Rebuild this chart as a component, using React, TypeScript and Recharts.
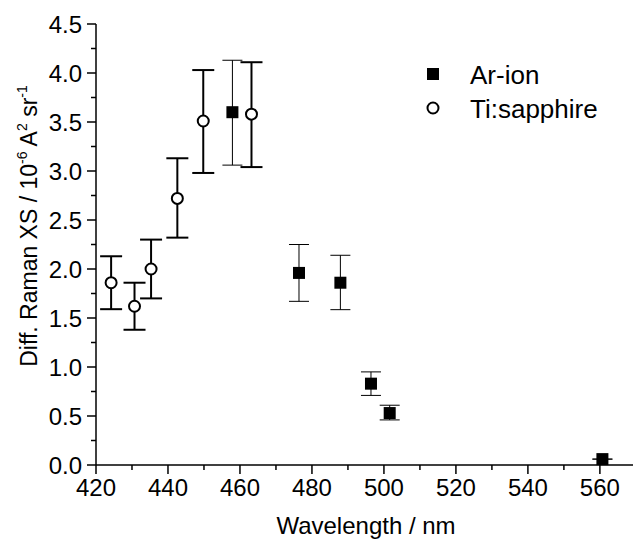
import React from "react";
import { ScatterChart, Scatter, XAxis, YAxis, ErrorBar } from "recharts";

// Ti:sapphire (open circles)
const tiWavelength = [424.2, 430.7, 435.3, 442.6, 449.8, 463.2];
const tiValue = [1.86, 1.62, 2.0, 2.72, 3.51, 3.58];
const tiLow = [1.59, 1.38, 1.7, 2.32, 2.98, 3.04];
const tiHigh = [2.13, 1.86, 2.3, 3.13, 4.03, 4.11];

// Ar-ion (filled squares)
const arWavelength = [457.9, 476.4, 487.9, 496.4, 501.6, 560.7];
const arValue = [3.6, 1.96, 1.86, 0.83, 0.53, 0.06];
const arLow = [3.06, 1.67, 1.585, 0.71, 0.46, 0.06];
const arHigh = [4.13, 2.25, 2.14, 0.95, 0.61, 0.06];

const xTicks = [420, 430, 440, 450, 460, 470, 480, 490, 500, 510, 520, 530, 540, 550, 560];
const yTicks = [0, 0.25, 0.5, 0.75, 1, 1.25, 1.5, 1.75, 2, 2.25, 2.5, 2.75, 3, 3.25, 3.5, 3.75, 4, 4.25, 4.5];

const FONT = '"Liberation Sans", Arial, Helvetica, sans-serif';

const build = (xs: number[], vs: number[], lo: number[], hi: number[]) =>
  xs.map((x, i) => ({ x, y: vs[i], err: [vs[i] - lo[i], hi[i] - vs[i]] }));

const tiData = build(tiWavelength, tiValue, tiLow, tiHigh);
const arData = build(arWavelength, arValue, arLow, arHigh);

const XTick = ({ x, y, payload }: any) => {
  const major = payload.value % 20 === 0;
  return (
    <g>
      <line x1={x} y1={y} x2={x} y2={y + (major ? 9 : 5)} stroke="#000" strokeWidth={1.5} />
      {major && (
        <text x={x} y={y + 31} textAnchor="middle" fontSize={24} fontFamily={FONT} fill="#000">
          {payload.value}
        </text>
      )}
    </g>
  );
};

const YTick = ({ x, y, payload }: any) => {
  const major = Math.round(payload.value * 2) === payload.value * 2;
  return (
    <g>
      <line x1={x} y1={y} x2={x - (major ? 9 : 5)} y2={y} stroke="#000" strokeWidth={1.5} />
      {major && (
        <text x={x - 14} y={y + 8.5} textAnchor="end" fontSize={24} fontFamily={FONT} fill="#000">
          {payload.value.toFixed(1)}
        </text>
      )}
    </g>
  );
};

const Square = ({ cx, cy }: any) => <rect x={cx - 6} y={cy - 6} width={12} height={12} fill="#000" />;
const Circle = ({ cx, cy }: any) => <circle cx={cx} cy={cy} r={5.5} fill="#fff" stroke="#000" strokeWidth={2} />;

const LegendBox = () => (
  <svg width={210} height={80} style={{ position: "absolute", left: 420, top: 50, fontFamily: FONT }}>
    <rect x={7} y={18} width={12} height={12} fill="#000" />
    <text x={50} y={34} fontSize={26} fill="#000">Ar-ion</text>
    <circle cx={13} cy={58} r={5.5} fill="#fff" stroke="#000" strokeWidth={2} />
    <text x={50} y={68} fontSize={26} fill="#000">Ti:sapphire</text>
  </svg>
);

const YLabel = () => (
  <text x={37} y={226} transform="rotate(-90, 37, 226)" textAnchor="middle" fontSize={23} fontFamily={FONT} fill="#000">
    Diff. Raman XS / 10
    <tspan fontSize={14} dy={-10}>-6</tspan>
    <tspan dy={10}> A</tspan>
    <tspan fontSize={14} dy={-10}>2</tspan>
    <tspan dy={10}> sr</tspan>
    <tspan fontSize={14} dy={-10}>-1</tspan>
  </text>
);

const XLabel = () => (
  <text x={366} y={534} textAnchor="middle" fontSize={24} fontFamily={FONT} fill="#000">
    Wavelength / nm
  </text>
);

export default function App() {
  return (
    <div style={{ position: "absolute", left: 0, top: 0, width: 633, height: 541, background: "#fff" }}>
      <ScatterChart width={633} height={541} margin={{ top: 24, right: 0, bottom: 0, left: 0 }}>
        <XAxis
          type="number"
          dataKey="x"
          domain={[420, 569.2]}
          ticks={xTicks}
          interval={0}
          allowDataOverflow
          height={76}
          tickLine={false}
          tickSize={0}
          tickMargin={0}
          tick={<XTick />}
          axisLine={{ stroke: "#000", strokeWidth: 1.5 }}
          label={<XLabel />}
        />
        <YAxis
          type="number"
          dataKey="y"
          domain={[0, 4.5]}
          ticks={yTicks}
          interval={0}
          width={96}
          tickLine={false}
          tickSize={0}
          tickMargin={0}
          tick={<YTick />}
          axisLine={{ stroke: "#000", strokeWidth: 1.5 }}
          label={<YLabel />}
        />
        <Scatter name="Ar-ion" data={arData} shape={<Square />} isAnimationActive={false}>
          <ErrorBar dataKey="err" direction="y" width={10} stroke="#000" strokeWidth={1} />
        </Scatter>
        <Scatter name="Ti:sapphire" data={tiData} shape={<Circle />} isAnimationActive={false}>
          <ErrorBar dataKey="err" direction="y" width={11} stroke="#000" strokeWidth={2} />
        </Scatter>
      </ScatterChart>
      <LegendBox />
    </div>
  );
}
